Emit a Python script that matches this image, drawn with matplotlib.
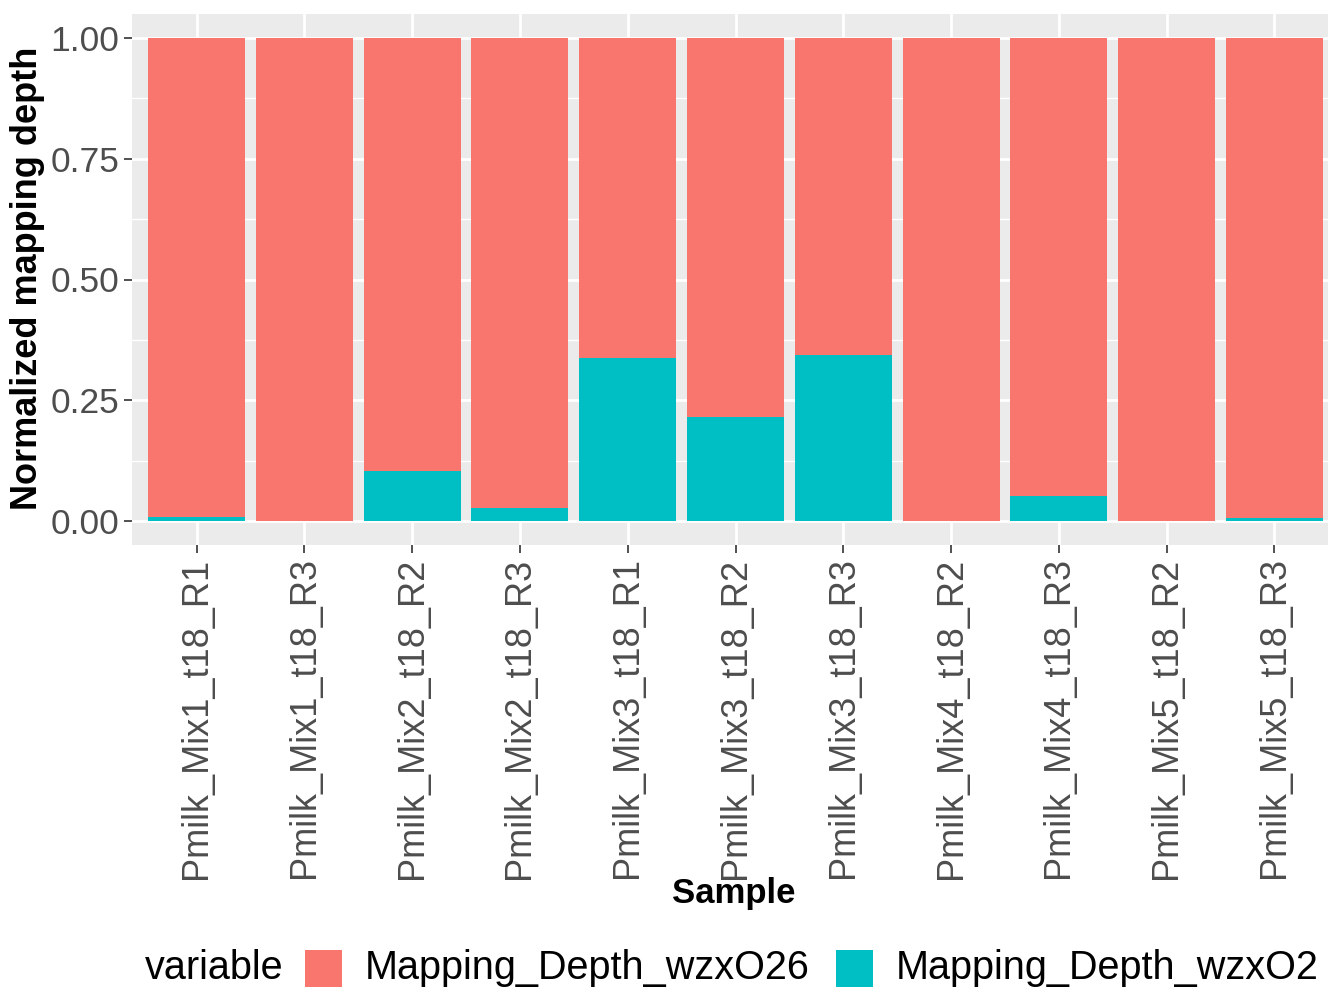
import numpy as np
import matplotlib.pyplot as plt
from matplotlib.patches import Rectangle
from matplotlib.ticker import MultipleLocator

plt.rcParams['font.family'] = ['Liberation Sans', 'DejaVu Sans']

samples = ["Pmilk_Mix1_t18_R1", "Pmilk_Mix1_t18_R3", "Pmilk_Mix2_t18_R2",
           "Pmilk_Mix2_t18_R3", "Pmilk_Mix3_t18_R1", "Pmilk_Mix3_t18_R2",
           "Pmilk_Mix3_t18_R3", "Pmilk_Mix4_t18_R2", "Pmilk_Mix4_t18_R3",
           "Pmilk_Mix5_t18_R2", "Pmilk_Mix5_t18_R3"]
depth_wzxO2 = [0.007, 0.0, 0.104, 0.027, 0.337, 0.215, 0.344, 0.0, 0.052, 0.0, 0.006]
depth_wzxO26 = [1 - v for v in depth_wzxO2]
series_names = ["Mapping_Depth_wzxO26", "Mapping_Depth_wzxO2"]
colors = ["#F8766D", "#00BFC4"]
y_ticks = [0.0, 0.25, 0.5, 0.75, 1.0]

W, H = 1328, 991
fig = plt.figure(figsize=(W / 100, H / 100), dpi=100)
ax = fig.add_axes([132 / W, 1 - 545 / H, (1339 - 132) / W, (545 - 14) / H])
ax.set_facecolor('#EBEBEB')

x = np.arange(1, len(samples) + 1)
ax.bar(x, depth_wzxO2, width=0.9, color=colors[1], zorder=3)
ax.bar(x, depth_wzxO26, bottom=depth_wzxO2, width=0.9, color=colors[0], zorder=3)

ax.set_xlim(0.4, len(samples) + 0.6)
ax.set_ylim(-0.05, 1.05)
ax.set_xticks(x)
ax.set_xticklabels(samples, rotation=90, fontsize=26, color='#4D4D4D')
ax.set_yticks(y_ticks)
ax.set_yticklabels([f"{v:.2f}" for v in y_ticks], fontsize=25.5, color='#4D4D4D')
ax.yaxis.set_minor_locator(MultipleLocator(0.125))

ax.grid(True, which='major', color='white', linewidth=2.0, zorder=0)
ax.grid(True, which='minor', axis='y', color='white', linewidth=1.0, zorder=0)
ax.set_axisbelow(True)
for s in ax.spines.values():
    s.set_visible(False)
ax.tick_params(axis='both', which='major', length=6, width=1.2, color='#333333', pad=3)
ax.tick_params(axis='y', which='minor', length=0)

# axis titles placed where the reference has them
fig.text(734 / W, 1 - 893 / H, "Sample", fontsize=25, fontweight='bold',
         ha='center', va='center')
fig.text(28 / W, 1 - 278 / H, "Normalized mapping depth", fontsize=26, fontweight='bold',
         rotation=90, ha='center', va='center')

# legend along the bottom
ly = 1 - 968 / H
fig.text(145 / W, ly, "variable", fontsize=28.5, ha='left', va='center')
key_x = [305, 836]
for kx, name, c in zip(key_x, series_names, colors):
    fig.patches.append(Rectangle((kx / W, 1 - 987 / H), 37 / W, 37 / H,
                                 transform=fig.transFigure, facecolor=c, edgecolor='none'))
    fig.text((kx + 60) / W, ly, name, fontsize=28.5, ha='left', va='center')

fig.savefig("out.png", dpi=100)
